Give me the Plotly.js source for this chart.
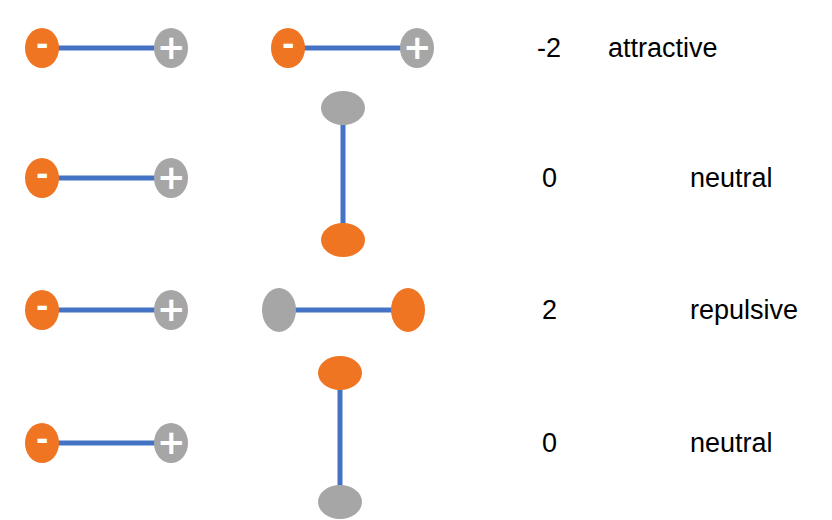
<!DOCTYPE html>
<html>
<head>
<meta charset="utf-8">
<script src="https://cdn.plot.ly/plotly-3.0.1.min.js"></script>
<style>body{margin:0;background:#fff}</style>
</head>
<body>
<div id="chart" style="width:832px;height:520px"></div>
<script>
// dipole rows: fixed reference dipole on the left, probe dipole in the middle
var rowY = [48, 178, 310, 443];
var energies = ["-2", "0", "2", "0"];
var labels = ["attractive", "neutral", "repulsive", "neutral"];
var labelX = [606, 688, 688, 688];

// probe dipoles: negative end (orange) and positive end (gray) centres
var probeNeg = [[288, 48], [343, 240], [408, 310], [340, 373]];
var probePos = [[417, 48], [343, 108], [279, 310], [340, 502]];
var probeVertical = [false, true, false, true];

var refNegX = 42, refPosX = 171;

var orange = "#ef7522", gray = "#a6a6a6", blue = "#4472c4";

var shapes = [];
var traces = [];
var annotations = [];

function bond(x0, y0, x1, y1) {
    traces.push({
        type: "scatter", mode: "lines", x: [x0, x1], y: [y0, y1],
        line: {color: blue, width: 5}, hoverinfo: "skip", showlegend: false
    });
}

function blob(cx, cy, rx, ry, color) {
    shapes.push({
        type: "circle", xref: "x", yref: "y", layer: "above",
        x0: cx - rx, x1: cx + rx, y0: cy - ry, y1: cy + ry,
        fillcolor: color, line: {width: 0}
    });
}

function sign(x, y, txt, size) {
    annotations.push({
        x: x, y: y, text: "<b>" + txt + "</b>", showarrow: false,
        font: {color: "white", size: size, family: "DejaVu Sans"}
    });
}

rowY.forEach(function (y, i) {
    bond(refNegX, y, refPosX, y);
    blob(refNegX, y, 17, 20, orange);
    blob(refPosX, y, 17, 20, gray);
    sign(refNegX, y - 4, "-", 30);
    sign(refPosX, y - 1, "+", 34);

    var n = probeNeg[i], p = probePos[i];
    bond(n[0], n[1], p[0], p[1]);
    var rx = probeVertical[i] ? 22 : 17, ry = probeVertical[i] ? 17 : 22;
    if (i === 0) { rx = 17; ry = 20; }
    blob(n[0], n[1], rx, ry, orange);
    blob(p[0], p[1], rx, ry, gray);
    if (i === 0) {
        sign(n[0], n[1] - 4, "-", 30);
        sign(p[0], p[1] - 1, "+", 34);
    }

    annotations.push({
        x: 549, y: y, text: energies[i], showarrow: false, xanchor: "center",
        font: {size: 27, color: "black", family: "Liberation Sans"}
    });
    annotations.push({
        x: labelX[i], y: y, text: labels[i], showarrow: false, xanchor: "left",
        font: {size: 27, color: "black", family: "Liberation Sans"}
    });
});

var layout = {
    width: 832, height: 520,
    margin: {l: 0, r: 0, t: 0, b: 0},
    paper_bgcolor: "white", plot_bgcolor: "white",
    xaxis: {range: [0, 832], visible: false, fixedrange: true},
    yaxis: {range: [520, 0], visible: false, fixedrange: true},
    shapes: shapes,
    annotations: annotations,
    showlegend: false
};

Plotly.newPlot("chart", traces, layout, {staticPlot: true});
</script>
</body>
</html>
